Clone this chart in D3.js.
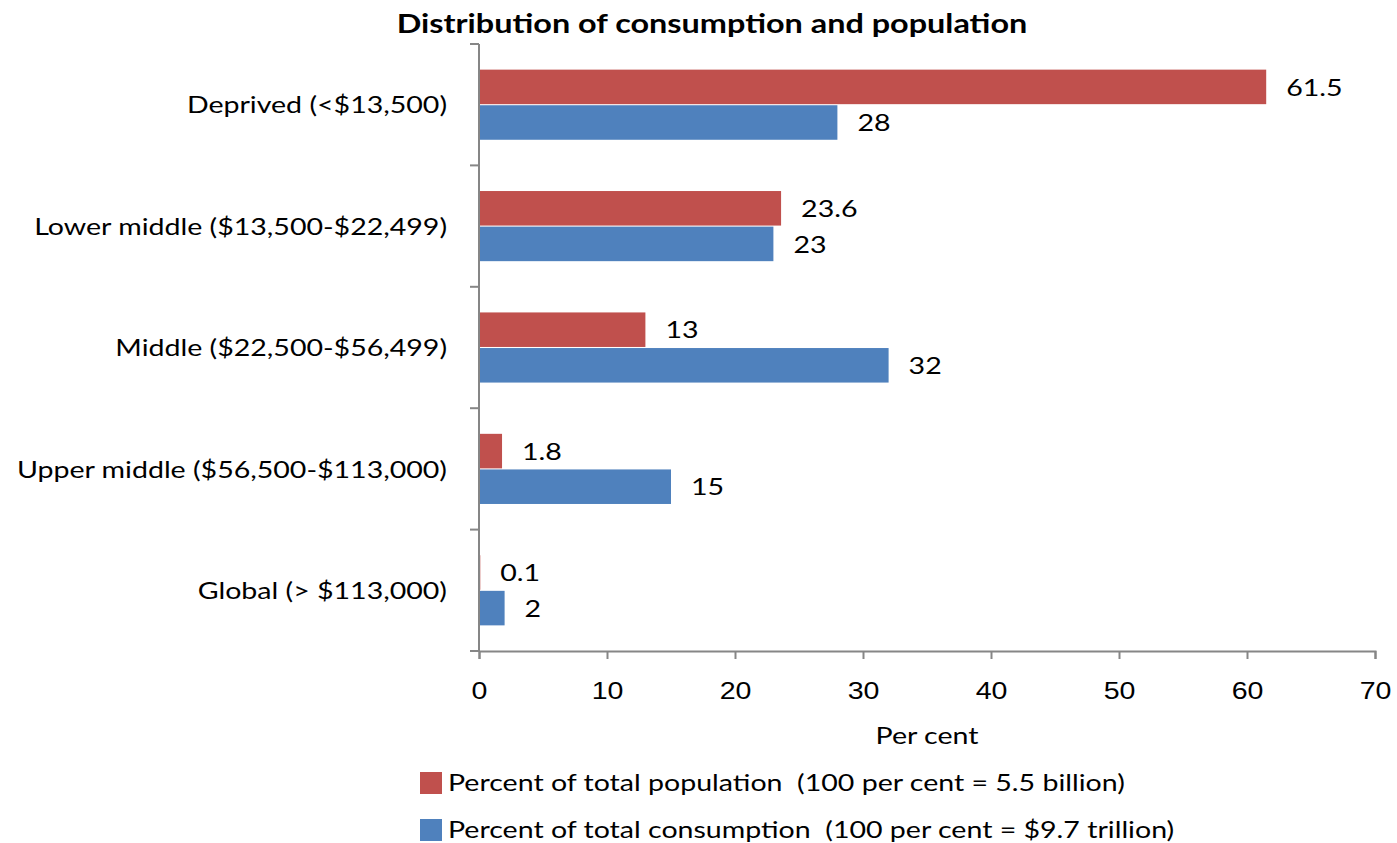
<!DOCTYPE html>
<html>
<head>
<meta charset="utf-8">
<script src="https://cdn.jsdelivr.net/npm/d3@7"></script>
<style>
  html, body { margin: 0; padding: 0; background: #fff; }
  svg { display: block; font-family: Lato, "Open Sans", sans-serif; }
</style>
</head>
<body>
<svg id="chart" width="1397" height="843"></svg>
<script>
// Income groups (annual consumption per person)
const categories = [
  "Deprived (<$13,500)",
  "Lower middle ($13,500-$22,499)",
  "Middle ($22,500-$56,499)",
  "Upper middle ($56,500-$113,000)",
  "Global (> $113,000)"
];
// Percent of total population
const populationShare = [61.5, 23.6, 13, 1.8, 0.1];
// Percent of total consumption
const consumptionShare = [28, 23, 32, 15, 2];
const xTicks = [0, 10, 20, 30, 40, 50, 60, 70];
const seriesNames = [
  "Percent of total population  (100 per cent = 5.5 billion)",
  "Percent of total consumption  (100 per cent = $9.7 trillion)"
];
const seriesColors = ["#C0504D", "#4F81BD"];

const svg = d3.select("#chart");
const plotLeft = 479, plotRight = 1375, plotTop = 44, plotBottom = 651;
const SX = 1.19;       // horizontal stretch used for all chart text
const FS = 24;         // base font size

// Places a text at (px, py), widened horizontally around its anchor point
function label(parent, px, py, str, opts = {}) {
  return parent.append("text")
    .attr("transform", `translate(${px},${py}) scale(${opts.sx ?? SX},1)`)
    .attr("text-anchor", opts.anchor ?? "start")
    .attr("dy", opts.dy ?? "0.36em")
    .attr("font-size", opts.size ?? FS)
    .attr("font-weight", opts.weight ?? "normal")
    .attr("fill", "#000")
    .style("white-space", "pre")
    .text(str);
}

const x = d3.scaleLinear().domain([0, 70]).range([plotLeft, plotRight]);
const y = d3.scaleBand().domain(categories).range([plotTop, plotBottom]).paddingInner(0).paddingOuter(0);
const inner = d3.scaleBand().domain([0, 1]).range([0, y.bandwidth()]).paddingInner(0.03).paddingOuter(0.72);

const series = [populationShare, consumptionShare];

// Title
label(svg, 712, 33, "Distribution of consumption and population",
  { anchor: "middle", dy: 0, size: 27, weight: "bold", sx: 1.2 });

// Bars and value labels
series.forEach((vals, si) => {
  const g = svg.append("g");
  g.selectAll("rect").data(vals).join("rect")
    .attr("x", x(0))
    .attr("y", (d, i) => y(categories[i]) + inner(si))
    .attr("width", d => x(d) - x(0))
    .attr("height", inner.bandwidth())
    .attr("fill", seriesColors[si]);
  vals.forEach((d, i) => {
    label(g, x(d) + 20, y(categories[i]) + inner(si) + inner.bandwidth() / 2, String(d));
  });
});

// Y axis
const yAxis = svg.append("g").attr("transform", `translate(${plotLeft},0)`);
yAxis.append("line")
  .attr("x1", 0).attr("x2", 0).attr("y1", plotTop).attr("y2", plotBottom)
  .attr("stroke", "#868686").attr("stroke-width", 2);
const bounds = categories.map(c => y(c)).concat([plotBottom]);
yAxis.selectAll("line.tick").data(bounds).join("line")
  .attr("class", "tick")
  .attr("x1", -9).attr("x2", 0)
  .attr("y1", d => d).attr("y2", d => d)
  .attr("stroke", "#868686").attr("stroke-width", 2);
categories.forEach(c => {
  label(yAxis, -32, y(c) + y.bandwidth() / 2, c, { anchor: "end" });
});

// X axis
const xAxis = svg.append("g").attr("transform", `translate(0,${plotBottom})`)
  .call(d3.axisBottom(x).tickValues(xTicks).tickSize(8).tickFormat(d3.format("d")));
xAxis.select(".domain").attr("stroke", "#868686").attr("stroke-width", 2);
xAxis.selectAll(".tick line").attr("stroke", "#868686").attr("stroke-width", 2);
xAxis.selectAll(".tick text").remove();
xAxis.selectAll(".tick").each(function (d) {
  label(d3.select(this), 0, 48, String(d), { anchor: "middle", dy: 0 });
});

label(svg, 927, 744, "Per cent", { anchor: "middle", dy: 0 });

// Legend
const legend = svg.append("g");
seriesNames.forEach((name, i) => {
  const ly = 783 + i * 47;
  legend.append("rect")
    .attr("x", 420).attr("y", ly - 11)
    .attr("width", 22).attr("height", 22)
    .attr("fill", seriesColors[i]);
  label(legend, 448, ly, name, { size: 23.5, sx: 1.215 });
});
</script>
</body>
</html>
